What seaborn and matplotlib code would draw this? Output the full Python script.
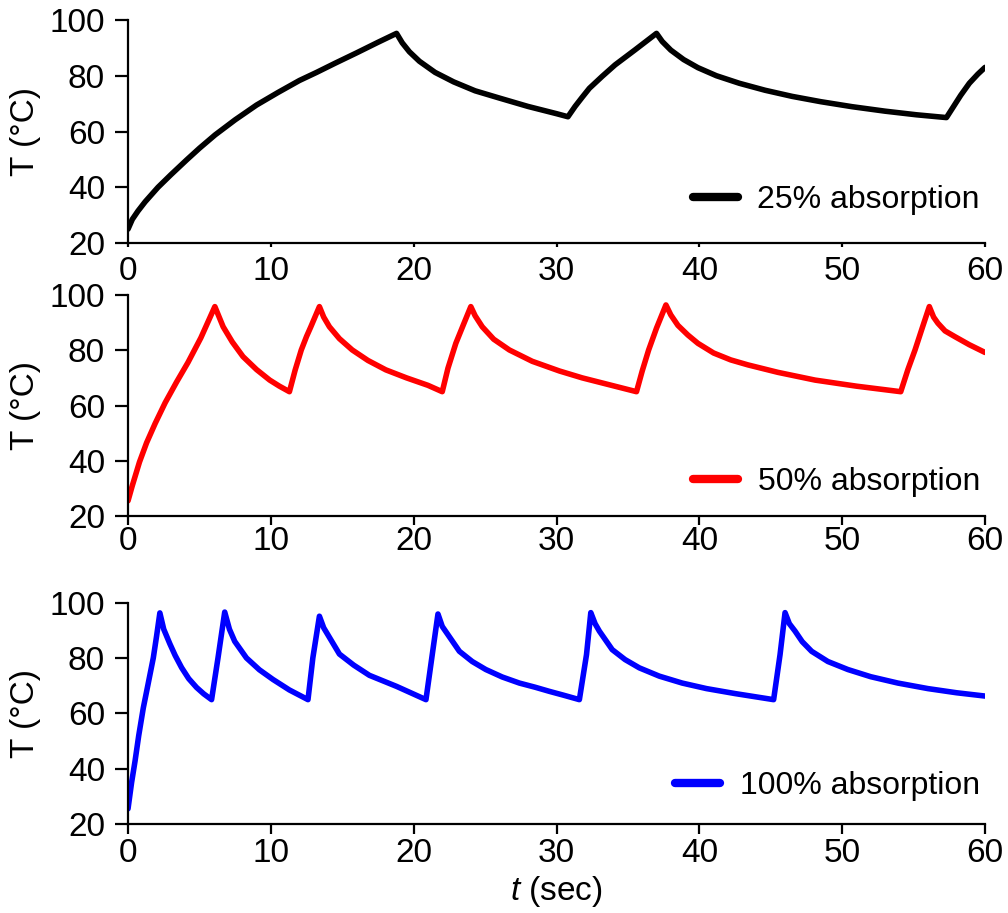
import matplotlib
matplotlib.use("Agg")
import matplotlib.pyplot as plt
import seaborn as sns

# Temperature traces (time in s, temperature in °C) for three absorption levels
t_25 = [0, 0.3, 0.7, 1.2, 2.1, 3.0, 4.1, 5.0, 6.1, 7.5, 9.0, 10.5, 12.0, 13.2, 14.5, 16.0, 17.5, 18.8,
        19.2, 19.7, 20.4, 21.5, 22.8, 24.3, 26.0, 28.0, 30.0, 30.8,
        31.3, 31.8, 32.3, 33.2, 34.1, 35.5, 37.0,
        37.4, 38.0, 38.9, 39.9, 41.2, 42.8, 44.6, 46.5, 48.5, 50.7, 53.0, 55.2, 57.3,
        57.8, 58.3, 58.9, 59.5, 60.0]
T_25 = [25, 28.5, 31.5, 34.8, 40, 44.5, 49.8, 54.0, 58.8, 64.2, 69.5, 74, 78.3, 81.2, 84.5, 88.2, 92, 95.2,
        91.8, 88.6, 85.2, 81.2, 77.8, 74.6, 72.0, 69.0, 66.4, 65.3,
        69.0, 72.3, 75.5, 79.8, 83.9, 89.3, 95.2,
        92.3, 89.2, 85.8, 82.9, 80.0, 77.3, 74.8, 72.6, 70.7, 68.9, 67.3, 66.0, 65.0,
        69.0, 73.0, 77.3, 80.6, 83.0]

t_50 = [0, 0.3, 0.8, 1.3, 1.9, 2.6, 3.4, 4.2, 5.1, 6.08,
        6.66, 7.3, 8.05, 9.0, 9.92, 10.6, 11.3,
        11.7, 12.13, 12.5, 12.8, 13.4,
        13.7, 14.1, 14.8, 15.7, 16.8, 18.05, 19.5, 21.0, 22.0,
        22.4, 22.95, 23.5, 24.0,
        24.3, 24.8, 25.6, 26.7, 28.3, 30.2, 31.8, 33.7, 35.6,
        36.0, 36.45, 37.0, 37.66,
        38.0, 38.5, 39.2, 39.9, 41.0, 42.2, 43.4, 45.5, 48.1, 51.0, 54.1,
        54.6, 55.1, 55.6, 56.1,
        56.4, 56.7, 57.2, 57.9, 58.9, 60.0]
T_50 = [25.5, 31, 39.5, 46.5, 53.5, 61, 68.5, 75.6, 84.5, 95.8,
        88.5, 83.0, 77.7, 73.0, 69.2, 67.0, 65.0,
        72.8, 80.1, 85.0, 88.5, 95.8,
        92.0, 88.5, 84.2, 80.1, 76.3, 72.9, 70.0, 67.3, 65.0,
        73.5, 82.5, 89.5, 95.8,
        92.5, 88.5, 84.0, 80.1, 76.0, 72.5, 70.0, 67.5, 65.0,
        72.5, 80.1, 88.0, 96.4,
        92.8, 89.0, 85.5, 82.5, 79.0, 76.5, 74.7, 72.0, 69.2, 67.0, 65.0,
        73.0, 80.1, 88.0, 95.8,
        92.0, 89.8, 87.0, 84.9, 82.0, 79.2]

t_100 = [0, 0.25, 0.49, 0.75, 1.07, 1.4, 1.77, 2.0, 2.23,
         2.5, 2.93, 3.3, 3.75, 4.25, 4.8, 5.3, 5.85,
         6.3, 6.77,
         7.1, 7.47, 8.29, 9.2, 10.15, 11.3, 12.6,
         12.94, 13.4,
         13.7, 13.99, 14.8, 15.8, 16.9, 18.8, 20.86,
         21.3, 21.7,
         22.0, 22.4, 23.2, 24.1, 25.05, 26.2, 27.4, 28.5, 29.5, 30.5, 31.6,
         32.1, 32.4,
         32.7, 33.0, 33.9, 34.8, 35.8, 37.2, 38.8, 40.5, 42.5, 45.2,
         45.65, 46.0,
         46.3, 46.7, 47.2, 47.86, 49.0, 50.4, 52.0, 53.9, 56.0, 58.0, 60.0]
T_100 = [25.5, 35.0, 42.7, 52.0, 62.0, 70.5, 80.1, 88.0, 96.4,
         90.5, 85.2, 81.0, 76.6, 72.6, 69.4, 67.1, 65.0,
         80.1, 96.7,
         90.5, 86.1, 80.1, 75.8, 72.3, 68.5, 65.0,
         80.1, 95.2,
         91.0, 88.5, 81.5, 77.5, 73.8, 69.8, 65.0,
         81.3, 96.0,
         91.5, 88.5, 82.5, 78.8, 75.9, 73.2, 71.0, 69.5, 68.0, 66.6, 65.0,
         81.3, 96.5,
         92.5, 89.8, 83.1, 79.5, 76.5, 73.5, 71.0, 69.0, 67.2, 65.0,
         81.3, 96.5,
         92.5, 89.8, 86.0, 82.5, 78.8, 75.9, 73.3, 71.0, 69.0, 67.5, 66.3]

series = [
    (t_25, T_25, "black", "25% absorption"),
    (t_50, T_50, "#ff0000", "50% absorption"),
    (t_100, T_100, "#0000ff", "100% absorption"),
]

x_ticks = [0, 10, 20, 30, 40, 50, 60]
y_ticks = [20, 40, 60, 80, 100]

sns.set_style("ticks")
plt.rcParams["font.family"] = ["Liberation Sans", "DejaVu Sans"]
plt.rcParams["mathtext.fontset"] = "custom"
plt.rcParams["mathtext.rm"] = "Liberation Sans"
plt.rcParams["mathtext.it"] = "Liberation Sans:italic"
plt.rcParams["text.color"] = "black"
plt.rcParams["axes.labelcolor"] = "black"
plt.rcParams["xtick.color"] = "black"
plt.rcParams["ytick.color"] = "black"
plt.rcParams["axes.edgecolor"] = "black"

fig = plt.figure(figsize=(10.08, 9.13), dpi=100)

left, width = 0.1270, 0.8502
boxes = [
    (left, 0.7338, width, 0.2443),
    (left, 0.4348, width, 0.2421),
    (left, 0.0975, width, 0.2421),
]
x_tick_len = [3, 6.5, 7]
x_tick_pad = [6.5, 0.5, 3]
legend_y = [0.193, 0.154, 0.172]

for i, ((tt, TT, col, lab), box) in enumerate(zip(series, boxes)):
    ax = fig.add_axes(box)
    sns.lineplot(x=tt, y=TT, ax=ax, color=col, lw=4, label=lab, sort=False)
    ax.set_xlim(0, 60)
    ax.set_ylim(20, 100)
    ax.set_xticks(x_ticks)
    ax.set_yticks(y_ticks)
    ax.set_ylabel("T (°C)", fontsize=24, labelpad=6)
    ax.set_xlabel("")
    for s in ("left", "bottom"):
        ax.spines[s].set_linewidth(1.6)
        ax.spines[s].set_color("black")
    sns.despine(ax=ax)
    ax.tick_params(axis="y", direction="out", length=9.5, width=1.6,
                   pad=7, labelsize=24, colors="black")
    ax.tick_params(axis="x", direction="out", length=x_tick_len[i], width=1.6,
                   pad=x_tick_pad[i], labelsize=24, colors="black")
    leg = ax.legend(loc="center right", bbox_to_anchor=(0.994, legend_y[i]),
                    frameon=False, fontsize=23, handlelength=1.4,
                    handletextpad=0.62, borderpad=0, borderaxespad=0)
    for h in leg.get_lines():
        h.set_linewidth(6)
    for txt in leg.get_texts():
        txt.set_color("black")
    if i == 2:
        ax.set_xlabel("$t$ (sec)", fontsize=24, labelpad=4)

fig.savefig("out.png", dpi=100)
